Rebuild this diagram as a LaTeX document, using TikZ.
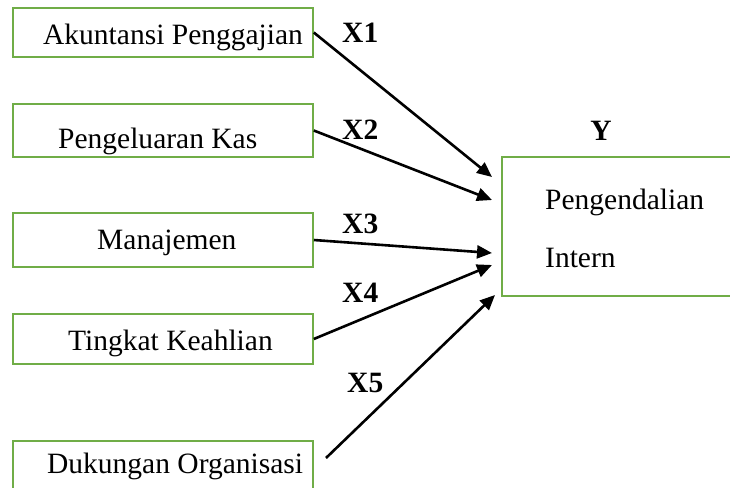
\documentclass[tikz,border=0pt]{standalone}
\usepackage{fontspec}
\setmainfont{Liberation Serif}
\usetikzlibrary{arrows.meta}
\definecolor{boxgreen}{RGB}{112,173,71}
\tikzset{
  box/.style={draw=boxgreen,line width=1.6pt,minimum width=300pt,inner sep=0pt},
  txt/.style={inner sep=0pt,anchor=base west,font=\fontsize{29.5}{34}\selectfont},
  var/.style={inner sep=0pt,anchor=base west,font=\fontsize{29.5}{34}\selectfont\bfseries},
  path/.style={line width=2.6pt,-{Triangle[length=15pt,width=13pt]}}
}
\begin{document}
\begin{tikzpicture}[x=1pt,y=-1pt]
\clip (0,0) rectangle (730,487);
\node[box,minimum height=49pt] (b1) at (163,32.5) {};
\node[box,minimum height=53pt] (b2) at (163,130.5) {};
\node[box,minimum height=54pt] (b3) at (163,240) {};
\node[box,minimum height=50pt] (b4) at (163,339) {};
\node[box,minimum height=49pt] (b5) at (163,465.5) {};
\node[draw=boxgreen,line width=1.6pt,minimum width=260pt,minimum height=139pt,inner sep=0pt] (y) at (632,226.5) {};

\node[txt] (n1) at (43,45) {Akuntansi Penggajian};
\node[txt] (n2) at (58,148) {Pengeluaran Kas};
\node[txt] (n3) at (97,249) {Manajemen};
\node[txt] (n4) at (68,350) {Tingkat Keahlian};
\node[txt] (n5) at (47,473) {Dukungan Organisasi};
\node[txt] (ny1) at (545,209) {Pengendalian};
\node[txt] (ny2) at (545,267) {Intern};

\node[var] (x1) at (342,43) {X1};
\node[var] (x2) at (342,139) {X2};
\node[var] (x3) at (342,233) {X3};
\node[var] (x4) at (342,302) {X4};
\node[var] (x5) at (347,392) {X5};
\node[var,anchor=base] (ly) at (601,140) {Y};

\coordinate (t1) at (492,177);
\coordinate (t2) at (492,200);
\coordinate (t3) at (492,253);
\coordinate (t4) at (492,265);
\coordinate (t5) at (495,295);
\coordinate (s5) at (326,458);

\draw[path] (b1.east)--(t1);
\draw[path] (b2.east)--(t2);
\draw[path] (b3.east)--(t3);
\draw[path] (b4.east)--(t4);
\draw[path] (s5)--(t5);
\end{tikzpicture}
\end{document}
